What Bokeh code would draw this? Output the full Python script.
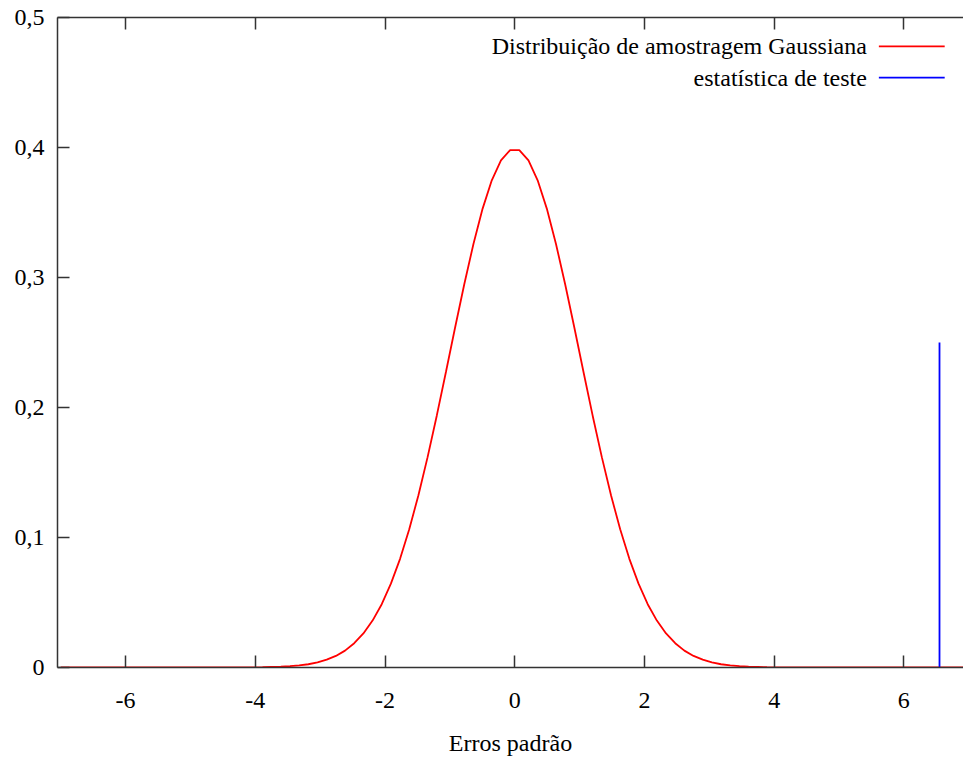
from bokeh.plotting import figure
from bokeh.models import (Range1d, FixedTicker, LinearAxis, CustomJSTickFormatter, Label)
from bokeh.embed import file_html
from bokeh.resources import INLINE

# --- data ---
curve_x = [-7.0,
           -4.0303, -3.8889, -3.7475, -3.6061, -3.4646, -3.3232, -3.1818, -3.0404, -2.8990, -2.7576,
           -2.6162, -2.4747, -2.3333, -2.1919, -2.0505, -1.9091, -1.7677, -1.6263, -1.4848, -1.3434,
           -1.2020, -1.0606, -0.9192, -0.7778, -0.6364, -0.4949, -0.3535, -0.2121, -0.0707,
           0.0707, 0.2121, 0.3535, 0.4949, 0.6364, 0.7778, 0.9192, 1.0606, 1.2020, 1.3434,
           1.4848, 1.6263, 1.7677, 1.9091, 2.0505, 2.1919, 2.3333, 2.4747, 2.6162, 2.7576,
           2.8990, 3.0404, 3.1818, 3.3232, 3.4646, 3.6061, 3.7475, 3.8889, 4.0303,
           7.0]
curve_y = [0.0,
           0.0001, 0.0002, 0.0004, 0.0006, 0.0010, 0.0016, 0.0025, 0.0039, 0.0060, 0.0089,
           0.0130, 0.0187, 0.0262, 0.0361, 0.0487, 0.0645, 0.0836, 0.1063, 0.1325, 0.1618,
           0.1937, 0.2273, 0.2615, 0.2948, 0.3258, 0.3530, 0.3748, 0.3901, 0.3980,
           0.3980, 0.3901, 0.3748, 0.3530, 0.3258, 0.2948, 0.2615, 0.2273, 0.1937, 0.1618,
           0.1325, 0.1063, 0.0836, 0.0645, 0.0487, 0.0361, 0.0262, 0.0187, 0.0130, 0.0089,
           0.0060, 0.0039, 0.0025, 0.0016, 0.0010, 0.0006, 0.0004, 0.0002, 0.0001,
           0.0]
stat_x = 6.55
stat_y = [0.0, 0.25]

x_ticks = [-6, -4, -2, 0, 2, 4, 6]
y_ticks = [0.0, 0.1, 0.2, 0.3, 0.4, 0.5]
series_names = ["Distribuição de amostragem Gaussiana", "estatística de teste"]
series_colors = ["#ff0000", "#0000ff"]
x_title = "Erros padrão"

FONT = "Liberation Serif"
FS = "24px"
AX = "#333333"
LW = 1.8

p = figure(width=963, height=758, output_backend="svg", toolbar_location=None,
           x_range=Range1d(-7.05, 6.92), y_range=Range1d(0, 0.5),
           min_border_left=57, min_border_right=0, min_border_top=17, min_border_bottom=91,
           background_fill_color="white", border_fill_color="white")
p.outline_line_color = None
p.xgrid.visible = False
p.ygrid.visible = False

p.line(curve_x, curve_y, line_color=series_colors[0], line_width=LW)
p.line([stat_x, stat_x], stat_y, line_color=series_colors[1], line_width=LW)

xfmt = CustomJSTickFormatter(code="return tick.toString();")
yfmt = CustomJSTickFormatter(code="return tick === 0 ? '0' : tick.toFixed(1).replace('.', ',');")

xa = p.xaxis[0]
xa.ticker = FixedTicker(ticks=x_ticks)
xa.formatter = xfmt
xa.major_tick_in = 12
xa.major_tick_out = 0
xa.minor_tick_line_color = None
xa.axis_line_color = AX
xa.axis_line_width = 1.5
xa.major_tick_line_color = AX
xa.major_tick_line_width = 1.5
xa.major_label_text_font = FONT
xa.major_label_text_font_size = FS
xa.major_label_text_color = "black"
xa.major_label_standoff = 25
xa.axis_label = x_title
xa.axis_label_text_font = FONT
xa.axis_label_text_font_size = FS
xa.axis_label_text_font_style = "normal"
xa.axis_label_text_color = "black"
xa.axis_label_standoff = 19

ya = p.yaxis[0]
ya.ticker = FixedTicker(ticks=y_ticks)
ya.formatter = yfmt
ya.major_tick_in = 12
ya.major_tick_out = 0
ya.minor_tick_line_color = None
ya.axis_line_color = AX
ya.axis_line_width = 1.5
ya.major_tick_line_color = AX
ya.major_tick_line_width = 1.5
ya.major_label_text_font = FONT
ya.major_label_text_font_size = FS
ya.major_label_text_color = "black"
ya.major_label_standoff = 13

top = LinearAxis(ticker=FixedTicker(ticks=x_ticks), formatter=xfmt,
                 major_tick_in=12, major_tick_out=0, minor_tick_line_color=None,
                 axis_line_color=AX, axis_line_width=1.5,
                 major_tick_line_color=AX, major_tick_line_width=1.5,
                 major_label_text_font_size="0px", major_label_standoff=0,
                 major_label_text_color=None)
p.add_layout(top, "above")

# legend (gnuplot style: label then sample line), placed in data coordinates
leg_text_x = 5.43
leg_line = (5.615, 6.63)
leg_rows = [0.4778, 0.4538]
for name, col, yy in zip(series_names, series_colors, leg_rows):
    p.add_layout(Label(x=leg_text_x, y=yy, text=name, text_align="right",
                       text_baseline="middle", text_font=FONT, text_font_size=FS,
                       text_color="black"))
    p.line(list(leg_line), [yy, yy], line_color=col, line_width=LW)

open("out.html", "w").write(file_html(p, INLINE))
